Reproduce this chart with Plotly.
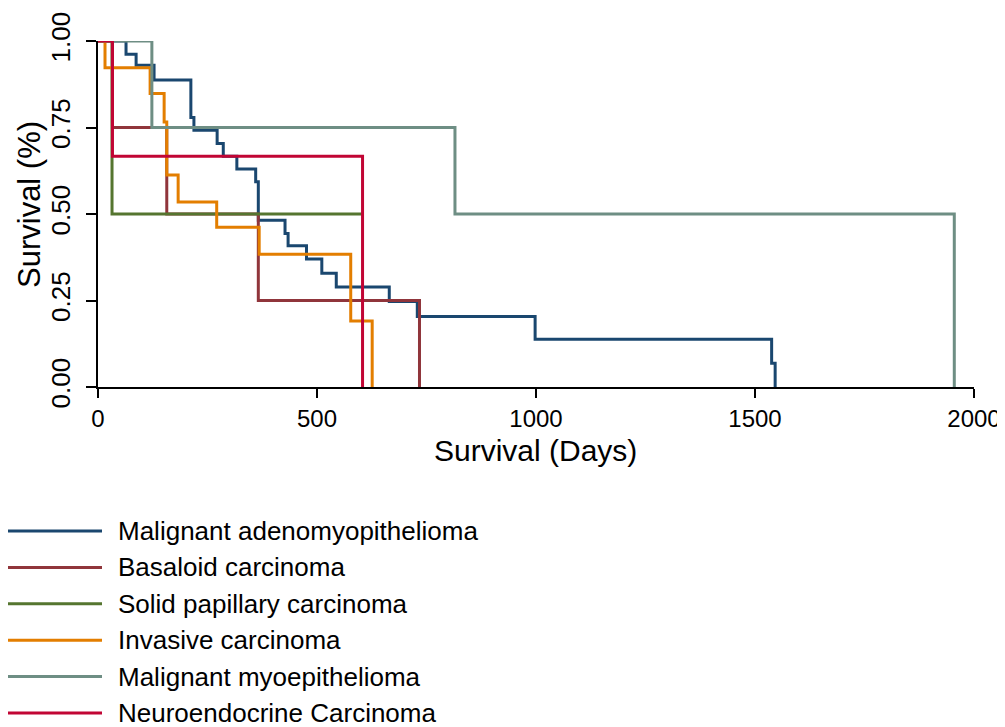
import plotly.graph_objects as go

# ---- data ----
names = ["Malignant adenomyopithelioma", "Basaloid carcinoma", "Solid papillary carcinoma",
         "Invasive carcinoma", "Malignant myoepithelioma", "Neuroendocrine Carcinoma"]
colors = ["#1a476f", "#90353b", "#55752f", "#e37e00", "#6e8e84", "#c10534"]

adeno_t = [0, 64, 87, 128, 212, 219, 272, 286, 317, 360, 366, 427, 434, 476, 511, 544, 665, 729, 998, 1538, 1546]
adeno_s = [1.0, 0.962, 0.930, 0.887, 0.779, 0.742, 0.704, 0.667, 0.630, 0.593, 0.482, 0.444, 0.408, 0.370,
           0.329, 0.289, 0.247, 0.204, 0.138, 0.069, 0.0]
basal_t = [0, 33, 157, 366, 734]
basal_s = [1.0, 0.75, 0.5, 0.25, 0.0]
solid_t = [0, 32, 602]
solid_s = [1.0, 0.5, 0.5]
invas_t = [0, 16, 119, 151, 157, 183, 271, 368, 577, 626]
invas_s = [1.0, 0.923, 0.848, 0.766, 0.613, 0.535, 0.462, 0.384, 0.191, 0.0]
myoep_t = [0, 123, 815, 1955]
myoep_s = [1.0, 0.75, 0.5, 0.0]
neuro_t = [0, 33, 604]
neuro_s = [1.0, 0.667, 0.0]

series = [(adeno_t, adeno_s), (basal_t, basal_s), (solid_t, solid_s),
          (invas_t, invas_s), (myoep_t, myoep_s), (neuro_t, neuro_s)]

x_ticks = [0, 500, 1000, 1500, 2000]
y_ticks = [0, 0.25, 0.5, 0.75, 1.0]
x_title = "Survival (Days)"
y_title = "Survival (%)"

FONT = "Liberation Sans, Arial, sans-serif"

fig = go.Figure()
for (t, s), n, c in zip(series, names, colors):
    fig.add_trace(go.Scatter(x=t, y=s, mode="lines", name=n, line=dict(color=c, width=3, shape="hv"),
                             cliponaxis=False, showlegend=False))

# page body has an 8px default margin; size the figure to fit the 1005x727 window
OFF = 8
W, H = 1005 - OFF, 727 - OFF
L, T = 98 - OFF, 41 - OFF
R = W - (974 - OFF)
B = H - (387 - OFF)
pw, ph = W - L - R, H - T - B

def px_x(px):  # page pixel -> paper x
    return (px - OFF - L) / pw

def px_y(py):  # page pixel -> paper y
    return (H - B - (py - OFF)) / ph

# manual legend below the plot
leg_y0, leg_dy = 531, 36.4
for i, (n, c) in enumerate(zip(names, colors)):
    yp = px_y(leg_y0 + i * leg_dy)
    fig.add_shape(type="line", xref="paper", yref="paper",
                  x0=px_x(OFF), x1=px_x(102), y0=yp, y1=yp,
                  line=dict(color=c, width=3))
    fig.add_annotation(xref="paper", yref="paper", x=px_x(116), y=yp, text=n,
                       showarrow=False, xanchor="left", yanchor="middle",
                       font=dict(family=FONT, size=26, color="black"))

# axis titles
fig.add_annotation(xref="paper", yref="paper", x=px_x(535), y=px_y(432), text=x_title,
                   showarrow=False, xanchor="center", yanchor="top",
                   font=dict(family=FONT, size=30, color="black"))
fig.add_annotation(xref="paper", yref="paper", x=px_x(29), y=px_y(205), text=y_title,
                   showarrow=False, xanchor="center", yanchor="middle", textangle=-90,
                   font=dict(family=FONT, size=31, color="black"))

fig.update_layout(
    width=W, height=H,
    margin=dict(l=L, r=R, t=T, b=B, autoexpand=False),
    paper_bgcolor="white", plot_bgcolor="white",
    font=dict(family=FONT, color="black"),
    showlegend=False,
)
fig.update_xaxes(range=[0, 2000], tickvals=x_ticks, ticktext=[str(v) for v in x_ticks],
                 automargin=False,
                 showgrid=False, zeroline=False, showline=True, linecolor="black", linewidth=2,
                 ticks="outside", ticklen=9, tickwidth=2, tickcolor="black",
                 tickfont=dict(size=24, family=FONT))
fig.update_yaxes(range=[0, 1.0], tickvals=y_ticks, ticktext=[f"{v:.2f}" for v in y_ticks],
                 automargin=False,
                 showgrid=False, zeroline=False, showline=True, linecolor="black", linewidth=2,
                 ticks="outside", ticklen=10, tickwidth=2, tickcolor="black", tickangle=-90,
                 ticklabelstandoff=6,
                 tickfont=dict(size=26, family=FONT))

fig.write_html("out.html")
